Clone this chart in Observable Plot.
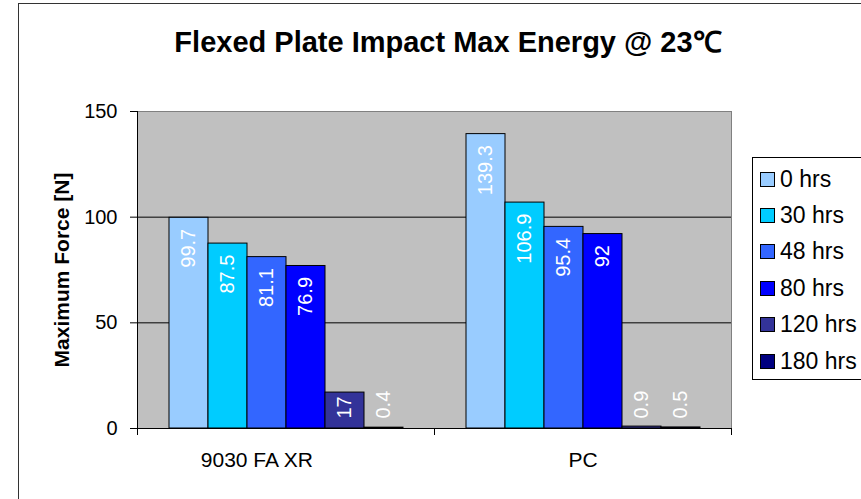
<!DOCTYPE html>
<html>
<head>
<meta charset="utf-8">
<script src="https://cdn.jsdelivr.net/npm/d3@7"></script>
<script src="https://cdn.jsdelivr.net/npm/@observablehq/plot@0.6"></script>
<style>
  html, body { margin: 0; padding: 0; background: #fff; }
  body { width: 861px; height: 499px; overflow: hidden; position: relative; font-family: "Liberation Sans", Arial, sans-serif; }
  #frame { position: absolute; left: 18px; top: 3px; width: 900px; height: 600px; border: 1.5px solid #333; box-sizing: border-box; }
  #chart { position: absolute; left: 0; top: 0; }
  #title { position: absolute; left: 0; width: 896px; top: 28px; text-align: center; font-weight: bold; font-size: 29px; line-height: 29px; color: #000; white-space: nowrap; }
  #legend { position: absolute; left: 752px; top: 157px; width: 140px; height: 223px; border: 1px solid #000; background: #fff; box-sizing: border-box; }
  .item { position: absolute; left: 7px; height: 24px; display: flex; align-items: center; font-size: 23px; white-space: nowrap; color: #000; }
  .sw { width: 13px; height: 13px; border: 1px solid #000; margin-right: 5px; }
</style>
</head>
<body>
<div id="frame"></div>
<div id="chart"></div>
<div id="title">Flexed Plate Impact Max Energy @ 23℃</div>
<div id="legend"></div>
<script>
const groups = ["9030 FA XR", "PC"];
// category tick labels as they appear (the first carries trailing spaces, as in the source sheet)
const groupLabels = ["9030 FA XR\u00a0\u00a0\u00a0\u00a0\u00a0\u00a0\u00a0\u00a0\u00a0\u00a0", "PC"];
const series = ["0 hrs", "30 hrs", "48 hrs", "80 hrs", "120 hrs", "180 hrs"];
const values9030 = [99.7, 87.5, 81.1, 76.9, 17, 0.4];
const valuesPC = [139.3, 106.9, 95.4, 92, 0.9, 0.5];
const colors = ["#99CCFF", "#00CCFF", "#3366FF", "#0000FF", "#333399", "#000080"];
const yTicks = [0, 50, 100, 150];
const yLabel = "Maximum Force [N]";

const valuesByGroup = [values9030, valuesPC];
const data = groups.flatMap((g, gi) =>
  series.map((s, si) => ({group: g, series: s, value: valuesByGroup[gi][si]}))
);

const W = 861, H = 499, mL = 137, mR = 130, mT = 111, mB = 71;
const plotH = H - mT - mB;

const chart = Plot.plot({
  width: W,
  height: H,
  marginLeft: mL,
  marginRight: mR,
  marginTop: mT,
  marginBottom: mB,
  style: {fontFamily: "'Liberation Sans', Arial, sans-serif", fontSize: "20px", background: "transparent", overflow: "visible"},
  fx: {domain: groups, padding: 0, label: null},
  x: {domain: series, paddingInner: 0, paddingOuter: 0.75, axis: null},
  y: {domain: [0, 150], axis: null},
  color: {domain: series, range: colors},
  marks: [
    Plot.frame({fill: "#C0C0C0", insetRight: -0.5}),
    Plot.ruleY([50, 100], {stroke: "#000"}),
    Plot.ruleY([150], {stroke: "#808080"}),
    Plot.frame({anchor: "right", facetAnchor: "right", stroke: "#808080"}),
    Plot.barY(data, {fx: "group", x: "series", y: "value", fill: "series", stroke: "#000", strokeWidth: 1}),
    Plot.ruleY([0], {stroke: "#000"}),
    Plot.frame({anchor: "left", facetAnchor: "left", stroke: "#000", insetBottom: -6}),
    Plot.frame({anchor: "left", stroke: "#000", insetTop: plotH, insetBottom: -6}),
    Plot.frame({anchor: "right", facetAnchor: "right", stroke: "#000", insetTop: plotH, insetBottom: -6}),
    Plot.axisY({ticks: yTicks, tickSize: 7, tickPadding: 13, fontSize: 20, tickFormat: d => String(d), label: null}),
    Plot.axisFx({anchor: "bottom", tickSize: 0, tickPadding: 24, fontSize: 21, label: null,
      tickFormat: d => groupLabels[groups.indexOf(d)]}),
    Plot.text(data.filter(d => d.value >= 20), {
      fx: "group", x: "series", y: "value", text: d => String(d.value),
      rotate: -90, textAnchor: "end", dy: 11, fill: "#fff", fontSize: 20
    }),
    Plot.text(data.filter(d => d.value < 20), {
      fx: "group", x: "series", y: () => 0, text: d => String(d.value),
      rotate: -90, textAnchor: "start", dy: -10, fill: "#fff", fontSize: 20
    }),
    Plot.text([yLabel], {
      frameAnchor: "left", facetAnchor: "left", textAnchor: "middle", rotate: -90, dx: -75,
      fontWeight: "bold", fontSize: 21, fill: "#000"
    })
  ]
});
document.getElementById("chart").appendChild(chart);

const color = chart.scale("color");
const legend = document.getElementById("legend");
series.forEach((s, i) => {
  const row = document.createElement("div");
  row.className = "item";
  row.style.top = (21 + i * 36.4 - 12) + "px";
  const sw = document.createElement("div");
  sw.className = "sw";
  sw.style.background = color.apply(s);
  const t = document.createElement("span");
  t.textContent = s;
  row.appendChild(sw);
  row.appendChild(t);
  legend.appendChild(row);
});
</script>
</body>
</html>
